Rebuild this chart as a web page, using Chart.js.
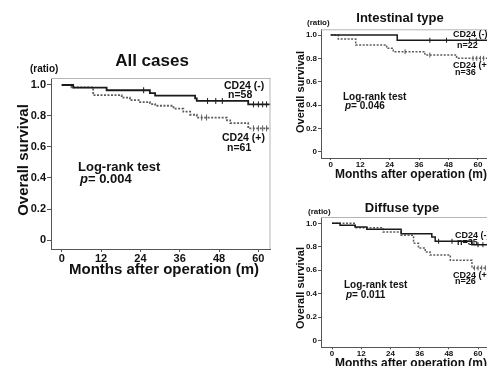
<!DOCTYPE html>
<html>
<head>
<meta charset="utf-8">
<script src="https://cdn.jsdelivr.net/npm/chart.js@4.4.1/dist/chart.umd.min.js"></script>
<style>
  html, body { margin: 0; padding: 0; background: #fff; }
  #wrap { position: relative; width: 487px; height: 366px; overflow: hidden; }
  canvas { position: absolute; }
</style>
</head>
<body>
<div id="wrap">
  <canvas id="allChart" style="left:0px;top:0px" width="290" height="290"></canvas>
  <canvas id="intChart" style="left:290px;top:0px" width="210" height="185"></canvas>
  <canvas id="difChart" style="left:290px;top:185px" width="210" height="185"></canvas>
</div>
<script>
// axis ticks (shared by all three panels)
const xTickVals = [0, 12, 24, 36, 48, 60];
const yTickVals = [0, 0.2, 0.4, 0.6, 0.8, 1.0];
const yTickLabels = ["0", "0.2", "0.4", "0.6", "0.8", "1.0"];

// All cases
const allNegMonths = [0, 3.5, 13.7, 26.9, 28.5, 40.7, 41.2, 56.9];
const allNegSurv = [1, 0.983, 0.966, 0.948, 0.931, 0.914, 0.897, 0.875];
const allNegCensor = [25, 44.5, 47, 49, 58.5, 60, 61.3, 62.5];
const allPosMonths = [0, 3.0, 9.6, 18.3, 20.8, 23.9, 26.9, 28.5, 34.1, 37.1, 39.2, 41.2, 50.4, 51.4, 56.9];
const allPosSurv = [1, 0.984, 0.934, 0.918, 0.902, 0.89, 0.877, 0.866, 0.848, 0.828, 0.808, 0.79, 0.772, 0.754, 0.72];
const allPosCensor = [42.7, 44.2, 58.5, 60, 61.3, 62.5];

// Intestinal type
const intNegMonths = [0, 27.1];
const intNegSurv = [1, 0.955];
const intNegCensor = [40.4, 47.2, 56.6, 59.3];
const intPosMonths = [0, 3.1, 10.2, 22.8, 25.5, 38.4, 51.3];
const intPosSurv = [1, 0.965, 0.914, 0.886, 0.857, 0.829, 0.80];
const intPosCensor = [30.3, 40.4, 58, 59.5, 61, 62.3];

// Diffuse type
const difNegMonths = [0, 3.3, 9.5, 14.3, 28.4, 41, 42.4, 57.5];
const difNegSurv = [1, 0.983, 0.969, 0.949, 0.912, 0.883, 0.847, 0.818];
const difNegCensor = [43.8, 49.3, 60, 62];
const difPosMonths = [0, 9.5, 21, 28.4, 33.5, 35.5, 38.3, 40.3, 48.6, 57.5];
const difPosSurv = [1, 0.962, 0.926, 0.898, 0.83, 0.79, 0.755, 0.73, 0.685, 0.62];
const difPosCensor = [58.5, 60, 61.5, 63];

const FONT = "'Liberation Sans', Arial, sans-serif";

// survival value at time t (step function)
function survAt(months, surv, t) {
  let v = surv[0];
  months.forEach((m, i) => { if (m <= t) v = surv[i]; });
  return v;
}

function stepLine(months, surv, xMax) {
  const pts = months.map((m, i) => ({ x: m, y: surv[i] }));
  pts.push({ x: xMax, y: surv[surv.length - 1] });
  return pts;
}

function censorPts(months, surv, censor) {
  return censor.map(t => ({ x: t, y: survAt(months, surv, t) }));
}

// text + top/right frame drawn on top of the chart
const panelDecor = {
  id: "panelDecor",
  afterDraw(chart) {
    const p = chart.options.plugins.panelDecor;
    const ctx = chart.ctx;
    const a = chart.chartArea;
    ctx.save();
    ctx.strokeStyle = "#b5b5b5";
    ctx.lineWidth = 1;
    ctx.beginPath();
    ctx.moveTo(a.left, a.top + 0.5);
    ctx.lineTo(a.right, a.top + 0.5);
    ctx.moveTo(a.right - 0.5, a.top);
    ctx.lineTo(a.right - 0.5, a.bottom);
    ctx.stroke();

    ctx.fillStyle = "#111";
    ctx.textBaseline = "middle";
    p.texts.forEach(t => {
      const x = t.x - p.ox, y = t.y - p.oy;
      ctx.font = "bold " + t.size + "px " + FONT;
      if (t.rotate) {
        ctx.save();
        ctx.translate(x, y);
        ctx.rotate(-Math.PI / 2);
        ctx.textAlign = "center";
        ctx.fillText(t.text, 0, 0);
        ctx.restore();
      } else if (t.pval) {
        ctx.textAlign = "left";
        ctx.font = "italic bold " + t.size + "px " + FONT;
        ctx.fillText("p", x, y);
        const w = ctx.measureText("p").width;
        ctx.font = "bold " + t.size + "px " + FONT;
        ctx.fillText("= " + t.text, x + w, y);
      } else {
        ctx.textAlign = t.align || "left";
        ctx.fillText(t.text, x, y);
      }
    });
    ctx.restore();
  }
};

function makeChart(cfg) {
  const ctx = document.getElementById(cfg.id).getContext("2d");
  const neg = "#1a1a1a", pos = "#5c5c5c";
  new Chart(ctx, {
    type: "line",
    data: {
      datasets: [
        { data: stepLine(cfg.negM, cfg.negS, cfg.xMax), borderColor: neg, borderWidth: cfg.lw,
          stepped: true, pointRadius: 0, fill: false },
        { data: stepLine(cfg.posM, cfg.posS, cfg.xMax), borderColor: pos, borderWidth: cfg.lw,
          borderDash: [2, 1.5], stepped: true, pointRadius: 0, fill: false },
        { data: censorPts(cfg.negM, cfg.negS, cfg.negC), showLine: false, pointStyle: "line",
          pointRotation: 90, pointRadius: cfg.cr, pointBorderColor: neg, pointBorderWidth: 1 },
        { data: censorPts(cfg.posM, cfg.posS, cfg.posC), showLine: false, pointStyle: "line",
          pointRotation: 90, pointRadius: cfg.cr, pointBorderColor: pos, pointBorderWidth: 1 }
      ]
    },
    options: {
      responsive: false,
      animation: false,
      events: [],
      layout: { padding: cfg.pad },
      plugins: {
        legend: { display: false },
        tooltip: { enabled: false },
        panelDecor: { texts: cfg.texts, ox: cfg.ox, oy: cfg.oy }
      },
      scales: {
        x: {
          type: "linear", min: cfg.xMin, max: cfg.xMax,
          afterBuildTicks: s => { s.ticks = xTickVals.map(v => ({ value: v })); },
          afterFit: s => { s.height = cfg.xAxisH; },
          grid: { drawOnChartArea: false, tickLength: cfg.xTickLen, color: "#555" },
          border: { color: "#555", width: 1 },
          ticks: { color: "#111", padding: 0, maxRotation: 0, autoSkip: false,
                   font: { family: FONT, size: cfg.tickSize, weight: "bold" } }
        },
        y: {
          type: "linear", min: cfg.yMin, max: cfg.yMax,
          afterBuildTicks: s => { s.ticks = yTickVals.map(v => ({ value: v })); },
          afterFit: s => { s.width = cfg.yAxisW; },
          grid: { drawOnChartArea: false, tickLength: cfg.yTickLen, color: "#555" },
          border: { color: "#555", width: 1 },
          ticks: { color: "#111", padding: 1, autoSkip: false,
                   font: { family: FONT, size: cfg.tickSize, weight: "bold" },
                   callback: v => yTickLabels[yTickVals.findIndex(t => Math.abs(t - v) < 1e-6)] }
        }
      }
    },
    plugins: [panelDecor]
  });
}

// All cases
makeChart({
  id: "allChart", ox: 0, oy: 0,
  negM: allNegMonths, negS: allNegSurv, negC: allNegCensor,
  posM: allPosMonths, posS: allPosSurv, posC: allPosCensor,
  xMin: -3.27, xMax: 63.7, yMin: -0.058, yMax: 1.045,
  pad: { left: 0, right: 19.5, top: 78, bottom: 21 },
  yAxisW: 51, xAxisH: 20, xTickLen: 3, yTickLen: 4, tickSize: 11, lw: 1.8, cr: 3,
  texts: [
    { text: "All cases", x: 152, y: 61, size: 17, align: "center" },
    { text: "(ratio)", x: 30, y: 69, size: 10 },
    { text: "Overall survival", x: 23.5, y: 160, size: 15, rotate: true },
    { text: "Months after operation (m)", x: 164, y: 270, size: 15, align: "center" },
    { text: "CD24 (-)", x: 224, y: 86, size: 10.5 },
    { text: "n=58", x: 228, y: 94.7, size: 10.5 },
    { text: "CD24 (+)", x: 222, y: 138.3, size: 10.5 },
    { text: "n=61", x: 227, y: 148.3, size: 10.5 },
    { text: "Log-rank test", x: 78, y: 167, size: 13 },
    { text: "0.004", x: 80, y: 179, size: 13, pval: true }
  ]
});

// Intestinal type
makeChart({
  id: "intChart", ox: 290, oy: 0,
  negM: intNegMonths, negS: intNegSurv, negC: intNegCensor,
  posM: intPosMonths, posS: intPosSurv, posC: intPosCensor,
  xMin: -3.95, xMax: 64.5, yMin: -0.054, yMax: 1.049,
  pad: { left: 0, right: 11, top: 29.3, bottom: 13 },
  yAxisW: 31, xAxisH: 14, xTickLen: 2, yTickLen: 3, tickSize: 8, lw: 1.5, cr: 2.5,
  texts: [
    { text: "Intestinal type", x: 400, y: 18, size: 13, align: "center" },
    { text: "(ratio)", x: 307, y: 23, size: 8 },
    { text: "Overall survival", x: 301, y: 92, size: 11, rotate: true },
    { text: "Months after operation (m)", x: 411, y: 175, size: 12, align: "center" },
    { text: "CD24 (-)", x: 453, y: 35, size: 9 },
    { text: "n=22", x: 457, y: 46, size: 9 },
    { text: "CD24 (+)", x: 453, y: 65.7, size: 9 },
    { text: "n=36", x: 455, y: 72.7, size: 9 },
    { text: "Log-rank test", x: 343, y: 97.3, size: 10 },
    { text: "0.046", x: 345, y: 106.7, size: 10, pval: true }
  ]
});

// Diffuse type
makeChart({
  id: "difChart", ox: 290, oy: 185,
  negM: difNegMonths, negS: difNegSurv, negC: difNegCensor,
  posM: difPosMonths, posS: difPosSurv, posC: difPosCensor,
  xMin: -4.52, xMax: 64.5, yMin: -0.056, yMax: 1.054,
  pad: { left: 0, right: 11, top: 32, bottom: 8.7 },
  yAxisW: 31, xAxisH: 14, xTickLen: 2, yTickLen: 3, tickSize: 8, lw: 1.5, cr: 2.5,
  texts: [
    { text: "Diffuse type", x: 402, y: 208, size: 13, align: "center" },
    { text: "(ratio)", x: 308, y: 212, size: 8 },
    { text: "Overall survival", x: 301, y: 288, size: 11, rotate: true },
    { text: "Months after operation (m)", x: 411, y: 364, size: 12, align: "center" },
    { text: "CD24 (-)", x: 455, y: 236, size: 9 },
    { text: "n=35", x: 457, y: 243, size: 9 },
    { text: "CD24 (+)", x: 453, y: 275.7, size: 9 },
    { text: "n=26", x: 455, y: 281.7, size: 9 },
    { text: "Log-rank test", x: 344, y: 285, size: 10 },
    { text: "0.011", x: 346, y: 295, size: 10, pval: true }
  ]
});
</script>
</body>
</html>
